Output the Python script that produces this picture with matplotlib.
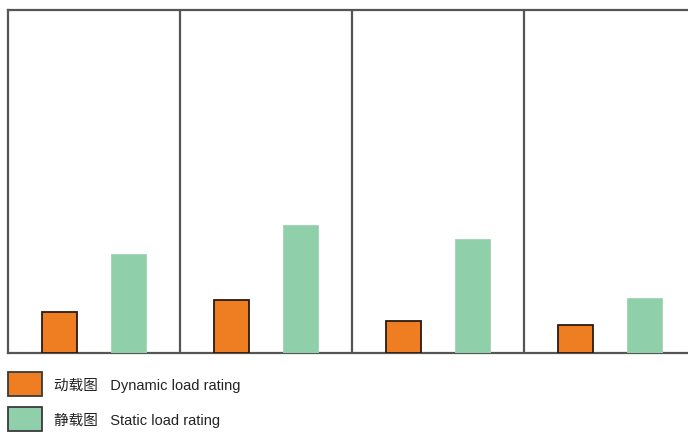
import matplotlib
matplotlib.use("Agg")
import matplotlib.pyplot as plt
from matplotlib.patches import Rectangle

plt.rcParams['font.family'] = ['Liberation Sans', 'Noto Sans CJK SC', 'DejaVu Sans']

# Four bearing sizes, each with a dynamic and a static load rating (relative units)
groups = ["A", "B", "C", "D"]
dynamic_rating = [41, 53, 32, 28]
static_rating = [99, 128, 114, 55]
legend_labels = ["动载图   Dynamic load rating", "静载图   Static load rating"]

orange = "#ef7d22"
green = "#8fcfa9"
frame = "#555555"

W, H = 688, 433
fig = plt.figure(figsize=(W / 100, H / 100), dpi=100)
ax = fig.add_axes([8 / W, (H - 353) / H, (W - 8) / W, 343 / H])

x = range(len(groups))
ax.bar([i + 0.30 for i in x], dynamic_rating, width=0.2, color=orange,
       edgecolor="#2a1a10", linewidth=1.3, zorder=3)
ax.bar([i + 0.70 for i in x], static_rating, width=0.2, color=green,
       edgecolor="#9fd3b3", linewidth=0.6, zorder=3)

for i in range(1, len(groups)):
    ax.axvline(i, color=frame, lw=1.6, zorder=2)

ax.set_xlim(0, (W - 8) / 172)
ax.set_ylim(0, 343)
ax.set_xticks([])
ax.set_yticks([])
ax.spines["right"].set_visible(False)
for s in ("left", "top", "bottom"):
    ax.spines[s].set_color(frame)
    ax.spines[s].set_linewidth(1.6)

# Legend drawn as boxes with captions below the panels
for (y0, y1), col, label in zip([(372, 396), (407, 431)], [orange, green], legend_labels):
    fig.add_artist(Rectangle((8 / W, (H - y1) / H), 34 / W, (y1 - y0) / H,
                             transform=fig.transFigure, facecolor=col,
                             edgecolor="#3a3a3a", linewidth=1.3))
    fig.text(54 / W, (H - (y0 + y1) / 2 - 1) / H, label, fontsize=10.5,
             color="#222222", va="center", ha="left")

fig.savefig("out.png", dpi=100)
